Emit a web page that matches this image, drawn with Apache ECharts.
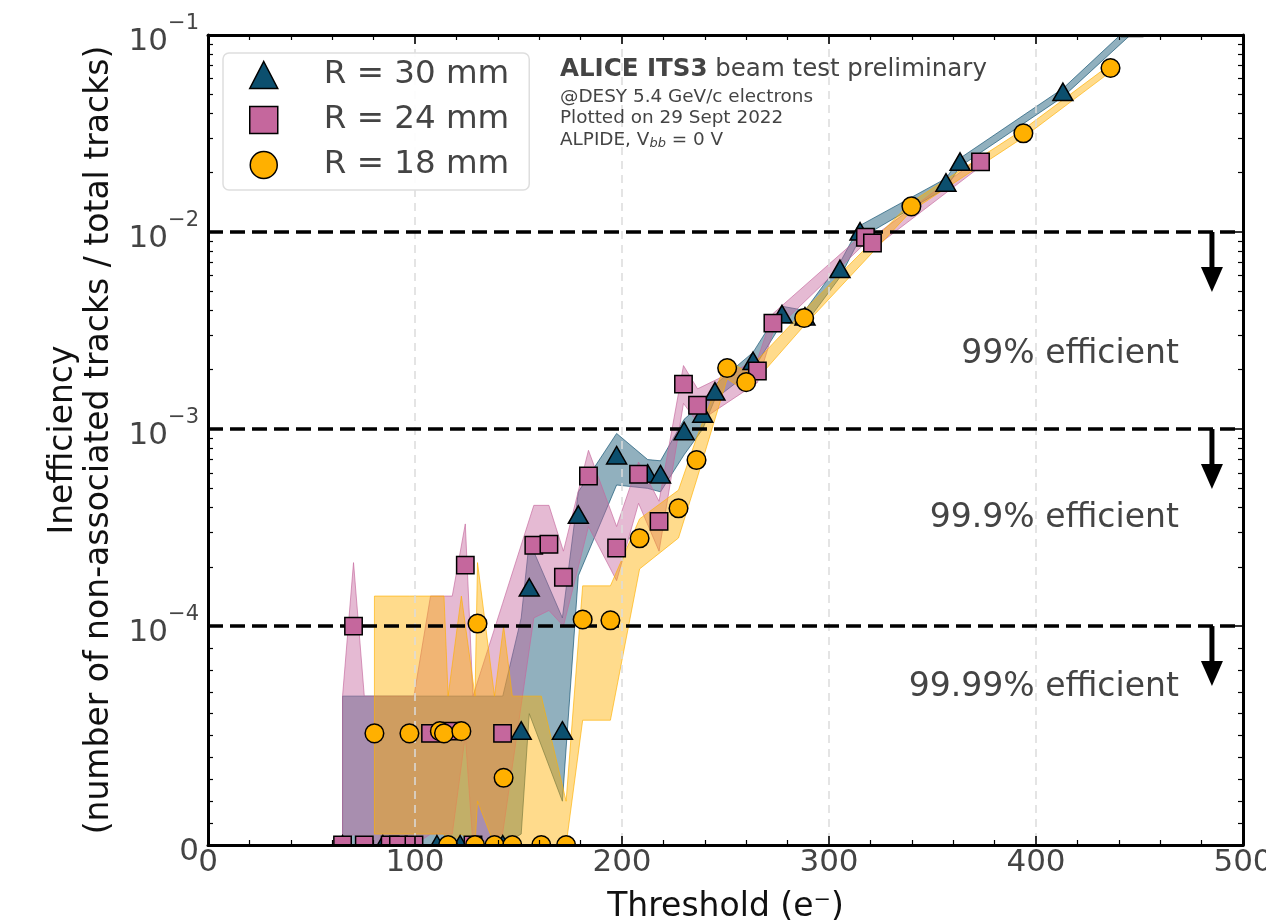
<!DOCTYPE html>
<html><head><meta charset="utf-8">
<script src="https://cdn.jsdelivr.net/npm/echarts@6/dist/echarts.min.js"></script>
<style>html,body{margin:0;padding:0;background:#fff}#c{width:1266px;height:924px}</style>
</head><body><div id="c"></div>
<script>
const FONT = "'DejaVu Sans', 'Noto Sans', sans-serif";

// ---------- data: R = 30 mm ----------
const r30X   = [65, 84.5, 110.6, 121.8, 142.4, 151.3, 155.2, 171.2, 178.9, 197.4, 212.4, 218.6, 230.0, 239.0, 244.9, 263.3, 277.3, 288.4, 305.3, 315.0, 356.5, 363.3, 413.0, 446.5];
const r30Val = [0, 0, 0, 0, 0, 5.2e-5, 1.56e-4, 5.2e-5, 3.65e-4, 7.3e-4, 5.9e-4, 5.85e-4, 9.7e-4, 1.19e-3, 1.54e-3, 2.2e-3, 3.8e-3, 3.7e-3, 6.45e-3, 1.0e-2, 1.77e-2, 2.26e-2, 5.1e-2, 0.108];
const r30Lo  = [0, 0, 0, 0, 0, 5e-6, 6e-5, 2e-5, 1.8e-4, 5.2e-4, 5.0e-4, 4.8e-4, 7.4e-4, 1.0e-3, 1.42e-3, 2.0e-3, 3.45e-3, 3.4e-3, 5.9e-3, 9.3e-3, 1.67e-2, 2.15e-2, 4.85e-2, 0.102];
const r30Hi  = [6.8e-5, 6.8e-5, 6.8e-5, 6.8e-5, 6.8e-5, 1.1e-4, 2.7e-4, 1.1e-4, 4.8e-4, 9.5e-4, 7.0e-4, 6.9e-4, 1.12e-3, 1.36e-3, 1.68e-3, 2.45e-3, 4.2e-3, 4.0e-3, 7.0e-3, 1.08e-2, 1.87e-2, 2.37e-2, 5.35e-2, 0.114];

// ---------- data: R = 24 mm ----------
const r24X   = [65, 70.3, 75.5, 88, 92, 99.5, 107.5, 118, 124.3, 128, 142.3, 157.4, 164.7, 171.7, 183.8, 197.4, 208, 217.9, 229.7, 236.5, 265.4, 272.9, 317.6, 321, 373.2];
const r24Val = [0, 1.0e-4, 0, 0, 0, 0, 5.1e-5, 5.2e-5, 2.04e-4, 0, 5.1e-5, 2.57e-4, 2.6e-4, 1.77e-4, 5.78e-4, 2.49e-4, 5.9e-4, 3.4e-4, 1.69e-3, 1.32e-3, 1.97e-3, 3.45e-3, 9.4e-3, 8.8e-3, 2.27e-2];
const r24Lo  = [0, 5e-6, 0, 0, 0, 0, 5e-6, 5e-6, 5e-5, 0, 5e-6, 1.1e-4, 1.2e-4, 1.0e-4, 3.2e-4, 1.7e-4, 4.2e-4, 2.4e-4, 1.35e-3, 1.08e-3, 1.72e-3, 3.1e-3, 8.8e-3, 8.2e-3, 2.15e-2];
const r24Hi  = [6.8e-5, 2.1e-4, 6.8e-5, 6.8e-5, 6.8e-5, 6.8e-5, 1.42e-4, 1.42e-4, 3.3e-4, 6.8e-5, 1.3e-4, 4.1e-4, 4.1e-4, 2.4e-4, 7.8e-4, 3.2e-4, 6.8e-4, 4.3e-4, 2.1e-3, 1.6e-3, 2.25e-3, 3.85e-3, 1.0e-2, 9.4e-3, 2.4e-2];

// ---------- data: R = 18 mm ----------
const r18X   = [80.4, 97.3, 112, 114, 116, 122.4, 129, 130.2, 138.4, 142.8, 147, 161, 173, 181, 194.4, 208.5, 227.3, 236, 250.8, 260, 288, 339.8, 393.9, 436];
const r18Val = [5.1e-5, 5.1e-5, 5.2e-5, 5.1e-5, 0, 5.2e-5, 0, 1.03e-4, 0, 3.07e-5, 0, 0, 0, 1.08e-4, 1.07e-4, 2.79e-4, 3.96e-4, 6.96e-4, 2.04e-3, 1.73e-3, 3.66e-3, 1.35e-2, 3.17e-2, 6.8e-2];
const r18Lo  = [5e-6, 5e-6, 5e-6, 5e-6, 0, 5e-6, 0, 2e-5, 0, 3e-6, 0, 0, 0, 5.7e-5, 5.7e-5, 1.95e-4, 2.8e-4, 5.5e-4, 1.8e-3, 1.55e-3, 3.35e-3, 1.28e-2, 3.02e-2, 6.5e-2];
const r18Hi  = [1.42e-4, 1.42e-4, 1.42e-4, 1.42e-4, 6.8e-5, 1.42e-4, 6.8e-5, 2.1e-4, 6.8e-5, 1.0e-4, 6.8e-5, 6.8e-5, 2.0e-5, 1.6e-4, 1.6e-4, 3.5e-4, 4.9e-4, 9.0e-4, 2.25e-3, 1.95e-3, 4.0e-3, 1.42e-2, 3.32e-2, 7.1e-2];

const seriesNames = ['R = 30 mm', 'R = 24 mm', 'R = 18 mm'];
const xTickStep = 100;
const yTickExps = [-4, -3, -2, -1];
const efficiencyLevels = [1e-2, 1e-3, 1e-4];
const efficiencyLabels = ['99% efficient', '99.9% efficient', '99.99% efficient'];
const efficiencyLabelY = [2.38e-3, 3.5e-4, 7.2e-5];

// ---------- symlog scale (linthresh 1e-4, linscale 1) ----------
const LINTHRESH = 1e-4;
const LINSCALE = 1 / (1 - 0.1);
function symlog(v) {
  if (v <= LINTHRESH) return v / LINTHRESH * LINSCALE;
  return LINSCALE + Math.log10(v / LINTHRESH);
}
const Y_MAX = symlog(1e-1);
const yMajor = [0].concat(yTickExps.map(e => symlog(Math.pow(10, e))));
const yMinor = [];
for (let k = 1; k <= 9; k++) yMinor.push(symlog(k * 1e-5));
for (let e = -4; e <= -2; e++) for (let k = 2; k <= 9; k++) yMinor.push(symlog(k * Math.pow(10, e)));

const BLUE = '#0c4f6e', PINK = '#c5679d', YELLOW = '#ffb000';
function rgba(hex, a) {
  const n = parseInt(hex.slice(1), 16);
  return 'rgba(' + (n >> 16 & 255) + ',' + (n >> 8 & 255) + ',' + (n & 255) + ',' + a + ')';
}
function clipOf(params) {
  const cs = params.coordSys;
  return { type: 'rect', shape: { x: cs.x, y: cs.y, width: cs.width, height: cs.height } };
}

function bandSeries(xs, lo, hi, color) {
  return {
    type: 'custom', coordinateSystem: 'cartesian2d', xAxisIndex: 0, yAxisIndex: 0,
    silent: true, z: 1, data: [[0, 0]],
    renderItem(params, api) {
      const pts = [];
      for (let i = 0; i < xs.length; i++) pts.push(api.coord([xs[i], symlog(hi[i])]));
      for (let i = xs.length - 1; i >= 0; i--) pts.push(api.coord([xs[i], symlog(lo[i])]));
      return {
        type: 'polygon', shape: { points: pts },
        style: { fill: rgba(color, 0.45), stroke: rgba(color, 0.65), lineWidth: 1 },
        clipPath: clipOf(params)
      };
    }
  };
}

function markerSeries(name, xs, vals, shape, color, z) {
  return {
    type: 'custom', name, coordinateSystem: 'cartesian2d', xAxisIndex: 0, yAxisIndex: 0,
    z, itemStyle: { color },
    data: xs.map((x, i) => [x, symlog(vals[i])]),
    renderItem(params, api) {
      const p = api.coord([api.value(0), api.value(1)]);
      let el;
      if (shape === 'circle') el = { type: 'circle', shape: { cx: p[0], cy: p[1], r: 9.3 } };
      else if (shape === 'rect') el = { type: 'rect', shape: { x: p[0] - 8.7, y: p[1] - 8.7, width: 17.4, height: 17.4 } };
      else el = { type: 'polygon', shape: { points: [[p[0], p[1] - 9.5], [p[0] + 10, p[1] + 8], [p[0] - 10, p[1] + 8]] } };
      el.style = { fill: color, stroke: '#000', lineWidth: 1.5 };
      el.clipPath = clipOf(params);
      return el;
    }
  };
}

const ARROW_X = 485, TEXT_X = 469;

const axisLineStyle = { color: '#000', width: 3 };
function xAxisCfg(pos, showLabel) {
  return {
    type: 'value', min: 0, max: 500, interval: xTickStep, position: pos, z: 10,
    axisLine: { show: true, onZero: false, lineStyle: axisLineStyle },
    axisTick: { show: true, inside: true, length: 9, lineStyle: { color: '#000', width: 1.6 } },
    minorTick: { show: true, splitNumber: 5, length: 5, lineStyle: { color: '#000', width: 1.2 } },
    axisLabel: { show: showLabel, color: '#444', fontSize: 31, fontFamily: FONT, margin: 2 },
    splitLine: { show: false }
  };
}
function yAxisCfg(pos, ticks, len, showLine, showLabel) {
  return {
    type: 'value', min: 0, max: Y_MAX, position: pos, z: 10,
    axisLine: { show: showLine, onZero: false, lineStyle: axisLineStyle },
    axisTick: { show: true, inside: true, length: len, customValues: ticks, lineStyle: { color: '#000', width: len > 6 ? 1.6 : 1.2 } },
    axisLabel: showLabel ? {
      show: true, customValues: yMajor, margin: 9,
      formatter: function (v) {
        if (Math.abs(v) < 1e-9) return '{n|0}';
        for (const e of yTickExps) if (Math.abs(symlog(Math.pow(10, e)) - v) < 1e-6) return '{n|10}{s|\u2212' + (-e) + '}';
        return '';
      },
      rich: {
        n: { fontSize: 31, color: '#444', fontFamily: FONT, lineHeight: 44, verticalAlign: 'bottom' },
        s: { fontSize: 21, color: '#444', fontFamily: FONT, lineHeight: 18, verticalAlign: 'top' }
      }
    } : { show: false },
    splitLine: { show: false }
  };
}

const xMain = xAxisCfg('bottom', true);
xMain.name = 'Threshold (e\u207B)';
xMain.nameLocation = 'middle';
xMain.nameGap = 46;
xMain.nameTextStyle = { fontSize: 33, color: '#111', fontFamily: FONT };

const yMain = yAxisCfg('left', yMajor, 9, true, true);
yMain.name = 'Inefficiency\n(number of non-associated tracks / total tracks)';
yMain.nameLocation = 'middle';
yMain.nameGap = 88;
yMain.nameTextStyle = { fontSize: 33, color: '#111', fontFamily: FONT, lineHeight: 36 };

const gridXAxis = {
  type: 'value', min: 0, max: 500, interval: xTickStep, position: 'bottom', z: 2,
  axisLine: { show: false }, axisTick: { show: false }, axisLabel: { show: false },
  splitLine: { show: true, lineStyle: { color: '#dcdcdc', width: 1.5, type: [8, 6] } }
};

const option = {
  animation: false,
  backgroundColor: '#fff',
  grid: { left: 208, right: 23, top: 35, bottom: 79, containLabel: false, outerBoundsMode: 'none' },
  xAxis: [xMain, xAxisCfg('top', false), gridXAxis],
  yAxis: [yMain, yAxisCfg('left', yMinor, 5, false, false), yAxisCfg('right', yMajor, 9, true, false), yAxisCfg('right', yMinor, 5, false, false)],
  legend: {
    show: true, orient: 'vertical', left: 223, top: 53, z: 20,
    backgroundColor: 'rgba(255,255,255,0.9)', borderColor: '#dedede', borderWidth: 1.5, borderRadius: 6,
    padding: [4, 20, 7, 26], itemWidth: 28, itemHeight: 27, itemGap: 9,
    textStyle: { fontSize: 32.5, color: '#444', fontFamily: FONT, lineHeight: 36, padding: [0, 0, 0, 41] },
    data: [
      { name: seriesNames[0], icon: 'triangle', itemStyle: { color: BLUE, borderColor: '#000', borderWidth: 1.5 } },
      { name: seriesNames[1], icon: 'rect', itemStyle: { color: PINK, borderColor: '#000', borderWidth: 1.5 } },
      { name: seriesNames[2], icon: 'circle', itemStyle: { color: YELLOW, borderColor: '#000', borderWidth: 1.5 } }
    ]
  },
  graphic: [
    { type: 'text', left: 560, top: 57, z: 20, style: {
      text: '{b|ALICE ITS3} beam test preliminary', fill: '#444', fontSize: 24.5, fontFamily: FONT,
      rich: { b: { fontWeight: 'bold', fontSize: 24.5, fill: '#444', fontFamily: FONT } } } },
    { type: 'text', left: 560, top: 86, z: 20, style: {
      text: '@DESY 5.4 GeV/c electrons\nPlotted on 29 Sept 2022\nALPIDE, V{sub|bb} = 0 V',
      fill: '#444', fontSize: 18.4, fontFamily: FONT, lineHeight: 21.5,
      rich: { sub: { fontSize: 13, fontStyle: 'italic', fontFamily: FONT, fill: '#444', lineHeight: 13, verticalAlign: 'bottom' } } } }
  ],
  series: [
    bandSeries(r30X, r30Lo, r30Hi, BLUE),
    bandSeries(r24X, r24Lo, r24Hi, PINK),
    bandSeries(r18X, r18Lo, r18Hi, YELLOW),
    {
      type: 'custom', coordinateSystem: 'cartesian2d', xAxisIndex: 0, yAxisIndex: 0, silent: true, z: 3,
      data: efficiencyLevels.map((v, i) => [ARROW_X, symlog(v), i]),
      renderItem(params, api) {
        const i = api.value(2);
        const p = api.coord([ARROW_X, symlog(efficiencyLevels[i])]);
        const l0 = api.coord([0, symlog(efficiencyLevels[i])]);
        const l1 = api.coord([500, symlog(efficiencyLevels[i])]);
        const tp = api.coord([TEXT_X, symlog(efficiencyLabelY[i])]);
        return { type: 'group', children: [
          { type: 'line', shape: { x1: l0[0], y1: l0[1], x2: l1[0], y2: l1[1] }, style: { stroke: '#000', lineWidth: 3.5, lineDash: [15, 7] } },
          { type: 'rect', shape: { x: p[0] - 2.5, y: p[1], width: 5, height: 37 }, style: { fill: '#000' } },
          { type: 'polygon', shape: { points: [[p[0] - 11, p[1] + 35], [p[0] + 11, p[1] + 35], [p[0], p[1] + 60]] }, style: { fill: '#000' } },
          { type: 'text', x: tp[0], y: tp[1], style: { text: efficiencyLabels[i], fill: '#444', fontSize: 33, fontFamily: FONT, align: 'right', verticalAlign: 'middle' } }
        ] };
      }
    },
    markerSeries(seriesNames[0], r30X, r30Val, 'triangle', BLUE, 4),
    markerSeries(seriesNames[1], r24X, r24Val, 'rect', PINK, 5),
    markerSeries(seriesNames[2], r18X, r18Val, 'circle', YELLOW, 6)
  ]
};

const chart = echarts.init(document.getElementById('c'), null, { renderer: 'canvas', width: 1266, height: 924 });
chart.setOption(option);
</script>
</body></html>
